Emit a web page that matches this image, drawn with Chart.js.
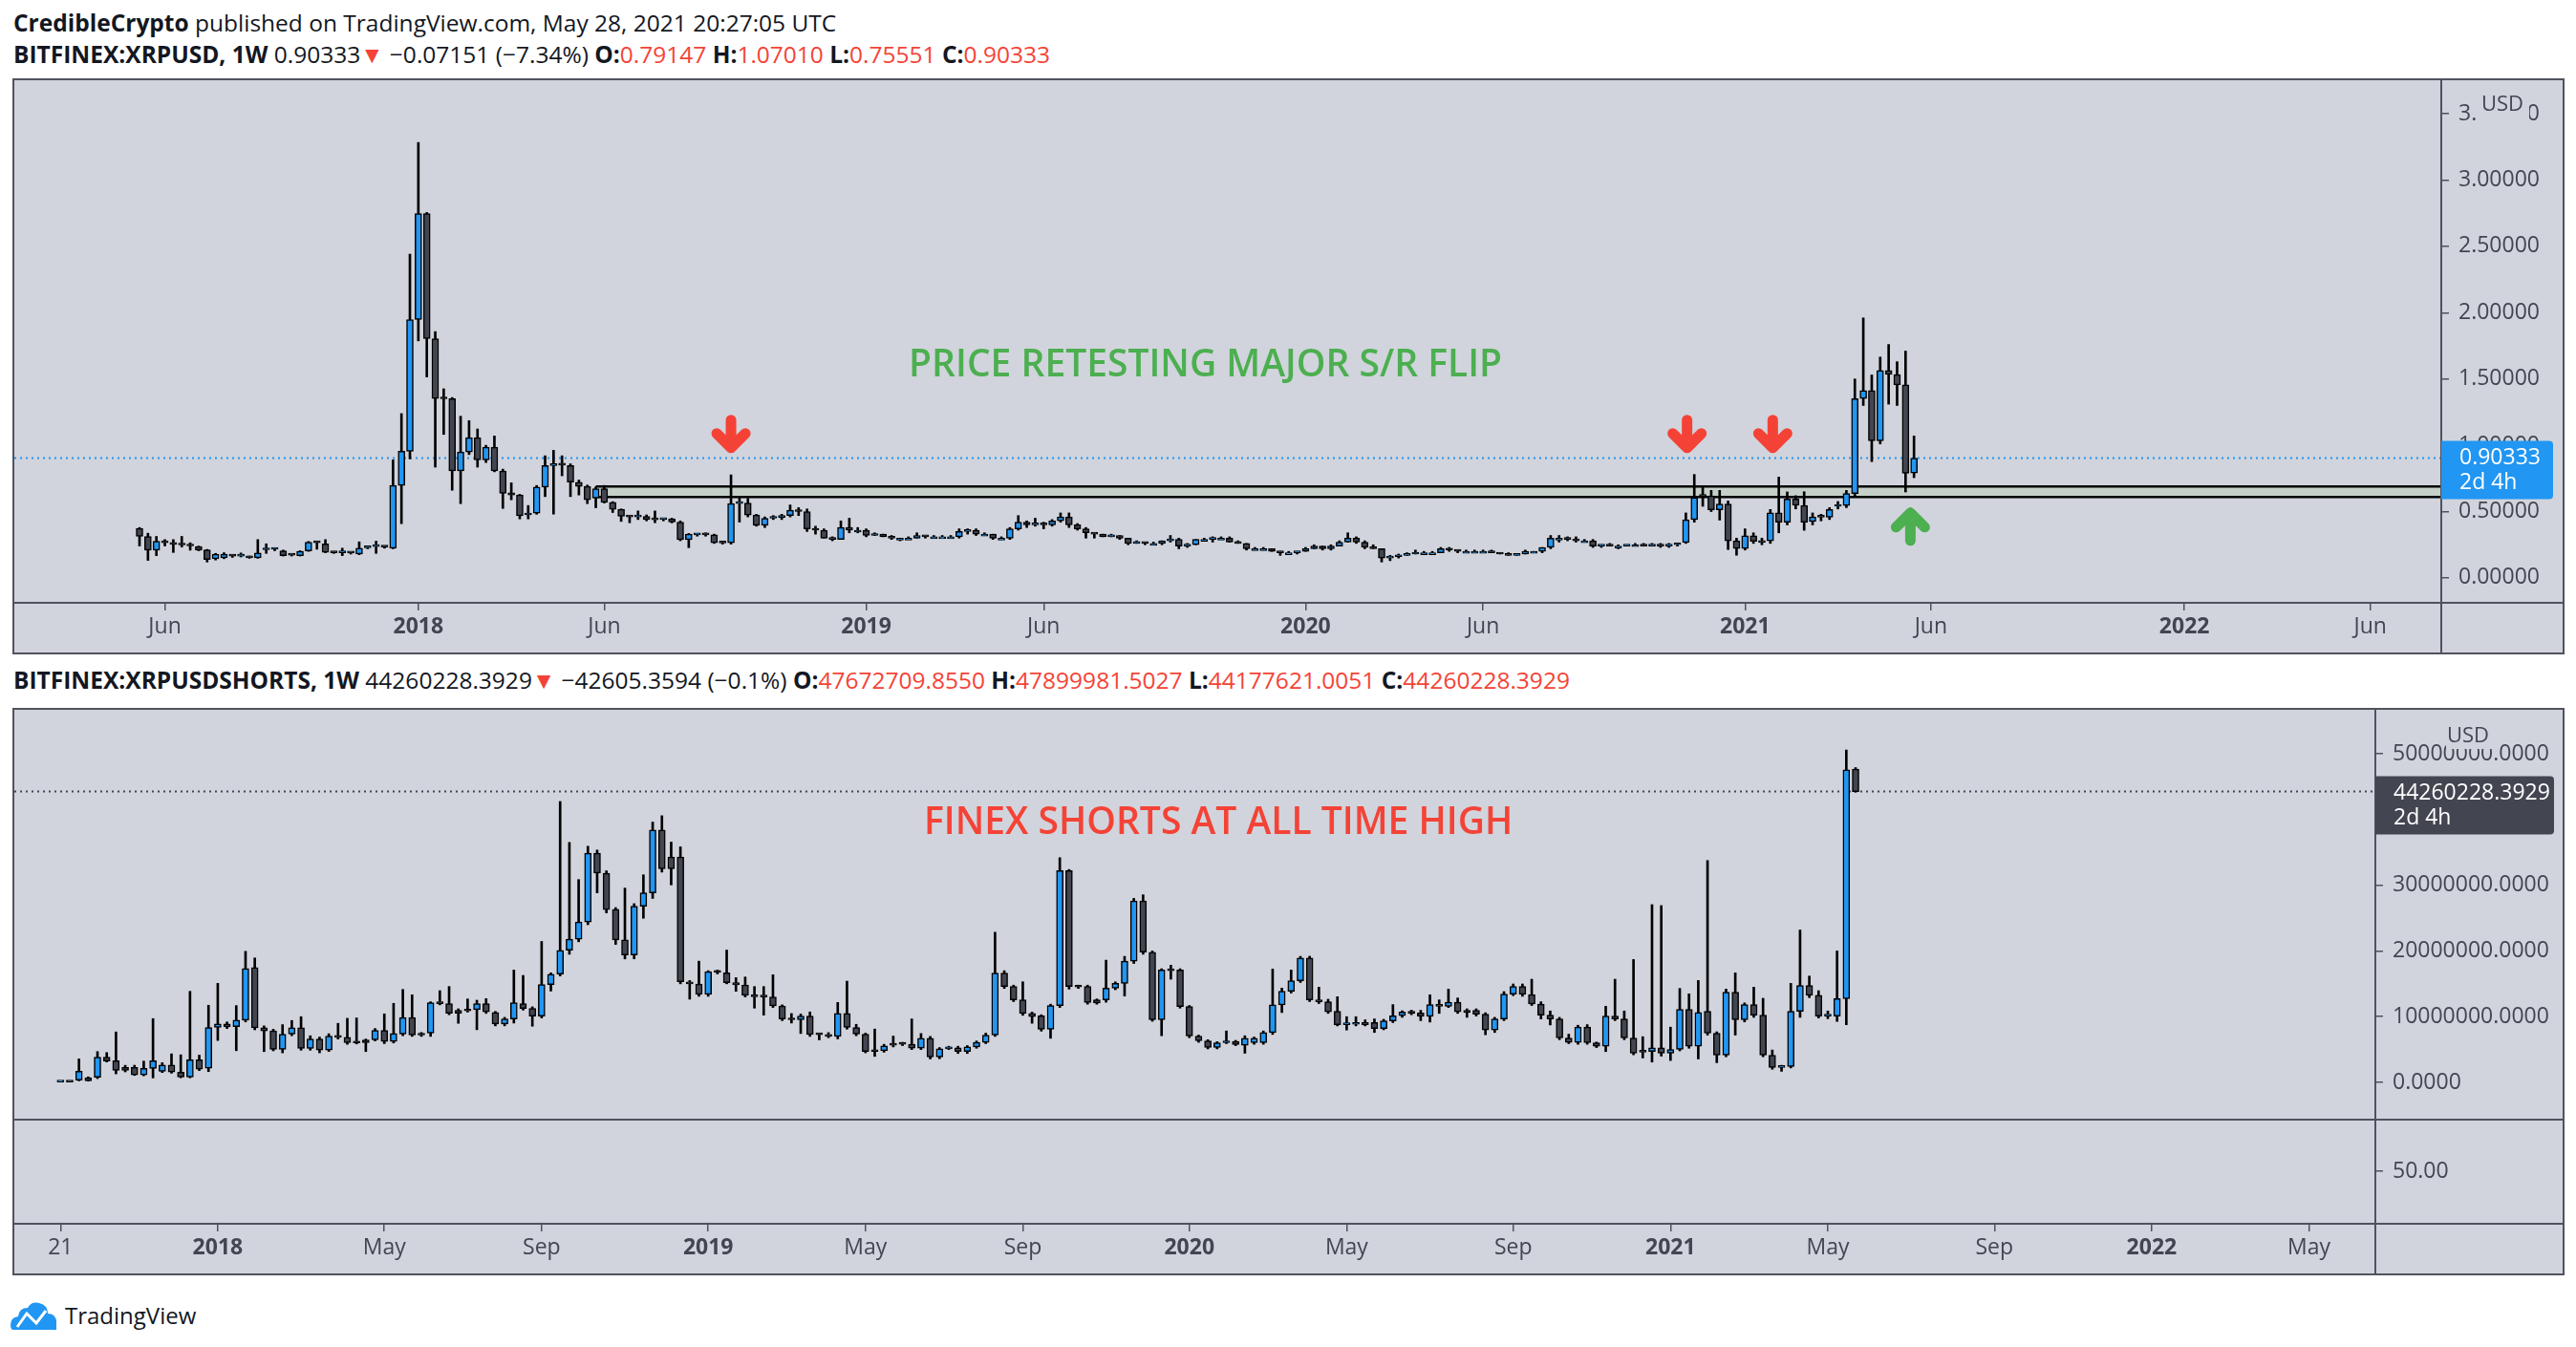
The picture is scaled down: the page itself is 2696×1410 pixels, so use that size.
<!DOCTYPE html>
<html>
<head>
<meta charset="utf-8">
<script src="https://cdn.jsdelivr.net/npm/chart.js@4.4.1/dist/chart.umd.min.js"></script>
<style>
  html, body { margin: 0; padding: 0; background: #ffffff; }
  body { width: 2696px; height: 1410px; position: relative; overflow: hidden; font-family: 'Open Sans', 'Noto Sans', sans-serif; color: #131722; }
  .hdr { position: absolute; left: 14px; font-size: 24.5px; line-height: 30px; white-space: nowrap; }
  .hdr b { font-weight: 700; }
  .red { color: #F44336; }
  .pane { position: absolute; left: 13px; width: 2667px; background: #D1D4DC; border: 2px solid #50535E; }
  .pane canvas { position: absolute; left: 0; }
  #logo { position: absolute; left: 11px; top: 1360px; display: flex; align-items: center; font-size: 24px; color: #131722; }
</style>
</head>
<body>
<div class="hdr" style="top:9px"><b>CredibleCrypto</b> published on TradingView.com, May 28, 2021 20:27:05 UTC</div>
<div class="hdr" style="top:42px"><b>BITFINEX:XRPUSD, 1W</b> 0.90333<span class="red">▼</span> −0.07151 (−7.34%) <b>O:</b><span class="red">0.79147</span> <b>H:</b><span class="red">1.07010</span> <b>L:</b><span class="red">0.75551</span> <b>C:</b><span class="red">0.90333</span></div>
<div class="pane" style="top:82px;height:599px"><canvas id="top" width="2667" height="599" style="top:0"></canvas></div>
<div class="hdr" style="top:697px"><b>BITFINEX:XRPUSDSHORTS, 1W</b> 44260228.3929<span class="red">▼</span> −42605.3594 (−0.1%) <b>O:</b><span class="red">47672709.8550</span> <b>H:</b><span class="red">47899981.5027</span> <b>L:</b><span class="red">44177621.0051</span> <b>C:</b><span class="red">44260228.3929</span></div>
<div class="pane" style="top:741px;height:590px">
  <canvas id="shorts" width="2667" height="428" style="top:0"></canvas>
  <canvas id="lower" width="2667" height="162" style="top:428px"></canvas>
</div>
<div id="logo">
  <svg width="54" height="30" viewBox="0 0 54 30"><path d="M3 30 Q0 30 0 25 Q0 17 8 16 Q9 7 18 7 Q22 0 30 2 Q39 4 39 13 Q47 13 48 21 L48 30 Z" fill="#2196F3"/><polyline points="7,27 17,13 27,23 37,10" stroke="#ffffff" stroke-width="3" fill="none"/></svg>
  <span style="margin-left:3px">TradingView</span>
</div>
<script>
// XRPUSD weekly candles, first bar week of 2017-05-15
const xrpStart = '2017-05-15';
const xrpOpen = [
  .373,.313,.209,.272,.265,.253,.248,.236,.212,.144,
  .152,.168,.164,.156,.152,.212,.216,.204,.173,.168,
  .204,.269,.257,.192,.19,.19,.18,.228,.236,.236,
  .224,.697,.955,1.948,2.746,1.804,1.352,1.352,.806,.95,
  1.058,.89,.986,.806,.642,.625,.475,.488,.685,.847,
  .854,.847,.722,.69,.601,.673,.57,.517,.464,.46,
  .464,.44,.44,.445,.421,.289,.325,.327,.325,.265,
  .265,.56,.565,.474,.397,.45,.455,.47,.51,.50,
  .37,.36,.30,.29,.38,.36,.36,.32,.33,.31,
  .30,.30,.30,.32,.31,.31,.31,.31,.35,.36,
  .33,.33,.30,.30,.37,.42,.40,.41,.40,.43,
  .46,.40,.37,.34,.33,.31,.32,.30,.26,.27,
  .26,.26,.28,.29,.24,.25,.29,.29,.30,.30,
  .27,.26,.22,.22,.22,.20,.19,.19,.20,.22,
  .24,.22,.24,.27,.30,.27,.23,.22,.15,.16,
  .17,.18,.19,.19,.19,.22,.21,.20,.20,.20,
  .20,.19,.18,.17,.18,.20,.20,.23,.30,.30,
  .29,.28,.28,.24,.25,.24,.24,.25,.25,.24,
  .25,.24,.25,.267,.439,.619,.619,.513,.557,.28,
  .222,.318,.28,.28,.49,.419,.595,.547,.426,.46,
  .458,.54,.545,.636,1.352,1.412,1.034,1.564,1.533,1.455,
  .79147
];
const xrpHigh = [
  .38,.337,.313,.289,.289,.313,.265,.24,.215,.185,
  .19,.175,.188,.165,.289,.257,.225,.21,.18,.205,
  .275,.277,.289,.2,.224,.195,.272,.24,.277,.24,
  .89,1.239,2.441,3.283,2.755,1.857,1.426,1.36,1.219,1.186,
  1.123,1.0,1.07,.82,.717,.63,.546,.697,.921,.962,
  .921,.86,.738,.70,.68,.697,.575,.52,.47,.505,
  .475,.505,.45,.45,.43,.335,.335,.34,.33,.275,
  .777,.613,.6,.48,.46,.47,.48,.55,.53,.52,
  .39,.37,.31,.43,.45,.38,.37,.34,.33,.32,
  .30,.31,.34,.32,.32,.32,.32,.37,.37,.37,
  .34,.33,.31,.38,.47,.43,.45,.42,.44,.49,
  .49,.41,.38,.34,.33,.33,.32,.30,.28,.27,
  .27,.28,.32,.30,.26,.29,.30,.31,.31,.31,
  .28,.26,.23,.23,.22,.20,.20,.20,.23,.25,
  .24,.25,.28,.34,.31,.28,.25,.22,.17,.18,
  .19,.21,.20,.20,.23,.23,.21,.21,.21,.21,
  .21,.19,.19,.18,.21,.20,.23,.32,.32,.31,
  .31,.29,.29,.25,.26,.25,.25,.26,.26,.26,
  .26,.26,.26,.49,.78,.684,.66,.66,.58,.30,
  .37,.34,.30,.516,.76,.648,.62,.65,.49,.48,
  .53,.576,.66,1.50,1.96,1.53,1.665,1.76,1.63,1.71,
  1.0701
];
const xrpLow = [
  .241,.132,.168,.241,.192,.233,.209,.205,.12,.135,
  .145,.155,.158,.148,.148,.185,.205,.165,.165,.165,
  .2,.216,.19,.185,.168,.18,.175,.22,.185,.224,
  .22,.409,.897,1.787,1.515,.835,1.082,.661,.56,.93,
  .835,.87,.8,.524,.589,.445,.445,.48,.613,.481,
  .77,.613,.625,.56,.529,.565,.493,.426,.416,.44,
  .43,.416,.43,.415,.28,.228,.315,.315,.26,.255,
  .255,.421,.46,.39,.38,.44,.44,.46,.47,.35,
  .33,.30,.28,.29,.34,.34,.31,.32,.31,.29,
  .28,.29,.30,.30,.30,.31,.30,.30,.33,.32,
  .32,.29,.29,.29,.36,.38,.39,.37,.39,.42,
  .38,.36,.30,.30,.31,.31,.29,.25,.26,.25,
  .25,.25,.27,.22,.23,.25,.28,.27,.29,.27,
  .26,.21,.21,.21,.20,.17,.19,.18,.20,.22,
  .21,.21,.24,.27,.26,.22,.22,.12,.13,.15,
  .17,.18,.18,.19,.19,.20,.19,.19,.19,.19,
  .19,.18,.17,.17,.18,.19,.19,.22,.27,.28,
  .27,.27,.23,.23,.24,.22,.24,.24,.24,.24,
  .23,.23,.24,.26,.42,.54,.50,.436,.214,.171,
  .21,.26,.25,.26,.34,.40,.52,.359,.40,.43,
  .44,.52,.53,.62,1.30,.877,1.01,1.31,1.30,.648,
  .75551
];
const xrpClose = [
  .313,.209,.277,.265,.253,.248,.241,.209,.139,.18,
  .18,.164,.166,.152,.188,.216,.218,.168,.172,.2,
  .269,.265,.192,.19,.193,.188,.224,.233,.238,.233,
  .697,.955,1.948,2.746,1.804,1.352,1.35,.806,.95,1.058,
  .89,.986,.806,.637,.625,.469,.481,.685,.847,.854,
  .85,.722,.69,.589,.673,.57,.517,.464,.46,.462,
  .44,.438,.445,.421,.289,.33,.327,.325,.265,.263,
  .56,.565,.474,.397,.45,.455,.47,.51,.50,.37,
  .36,.30,.29,.38,.36,.36,.32,.33,.31,.30,
  .30,.30,.32,.31,.31,.31,.31,.35,.36,.33,
  .33,.30,.30,.37,.42,.40,.41,.40,.43,.46,
  .40,.37,.34,.33,.31,.32,.30,.26,.27,.26,
  .26,.28,.29,.24,.25,.29,.29,.30,.30,.27,
  .26,.22,.22,.22,.20,.19,.19,.20,.22,.24,
  .22,.24,.27,.30,.27,.23,.22,.15,.16,.17,
  .18,.19,.19,.19,.22,.21,.20,.20,.20,.20,
  .19,.18,.17,.18,.20,.20,.23,.30,.30,.29,
  .28,.28,.24,.25,.24,.24,.25,.25,.24,.25,
  .24,.25,.26,.439,.605,.615,.513,.557,.28,.222,
  .318,.275,.267,.49,.419,.595,.547,.419,.46,.458,
  .516,.545,.636,1.352,1.412,1.034,1.564,1.535,1.455,.788,
  .90333
];

// XRPUSDSHORTS weekly candles (millions), first bar week of 2017-09-04
const shortsStart = '2017-09-04';
const shortsOpenM = [
  .05,.06,.34,.72,.77,3.86,3.29,2.27,2.27,1.16,
  2.13,1.69,2.66,1.55,.82,3.43,2.17,8.36,8.89,8.5,
  9.47,17.49,8.31,7.83,5.02,7.34,8.31,5.17,6.62,4.93,
  7.05,6.86,6.04,6.47,6.47,7.92,6.23,7.34,9.86,7.49,
  7.49,12.13,11.98,10.97,11.06,11.06,11.98,10.63,8.89,9.66,
  11.98,11.26,10.1,14.88,16.47,20.1,21.79,24.4,34.88,31.84,
  26.33,21.69,19.37,26.81,28.84,38.41,34.3,34.3,15.31,14.98,
  13.38,16.86,16.67,15.17,14.83,13.24,13.14,13.0,11.64,9.66,
  9.52,10.1,7.39,7.29,7.0,10.48,8.36,7.34,4.93,4.83,
  5.89,5.94,5.8,5.22,6.71,3.86,5.12,5.27,4.69,5.41,
  6.09,7.2,16.62,14.59,12.56,10.48,10.14,8.07,11.69,32.22,
  14.59,14.59,12.56,12.56,14.35,15.07,18.45,27.63,19.81,9.52,
  17.1,17.1,11.55,7.05,6.33,5.31,6.04,6.23,5.65,6.04,
  6.04,7.58,11.79,13.86,15.46,18.94,12.56,12.27,10.82,8.79,
  8.84,9.13,9.13,8.21,9.37,10.14,10.82,10.58,10.05,11.84,
  11.59,12.22,10.97,10.97,10.39,7.97,9.66,13.43,14.59,13.38,
  11.93,10.24,9.66,6.76,6.09,8.41,6.04,5.51,10.1,9.66,
  6.76,4.69,4.69,5.27,4.44,5.02,11.11,5.51,10.82,7.49,
  4.15,13.72,9.52,11.84,10.24,4.15,2.27,2.42,10.82,14.73,
  13.24,10.1,10.1,12.75,47.6727098550
];
const shortsHighM = [
  .1,.1,3.57,.85,4.69,4.54,7.68,2.6,2.61,3.24,
  9.71,3.0,4.35,4.2,13.86,4.15,11.74,15.07,9.2,11.69,
  19.95,18.94,8.6,8.1,8.79,9.42,10.0,7.1,6.9,7.4,
  8.99,9.76,9.81,6.6,8.2,10.43,12.03,14.15,13.33,7.6,
  12.27,13.96,14.59,11.2,12.7,12.51,12.75,10.8,9.9,17.1,
  16.28,11.5,21.45,16.67,42.75,36.52,30.87,35.94,35.36,32.2,
  26.6,29.57,27.2,31.59,39.61,40.58,36.57,35.85,15.5,18.45,
  17.0,17.1,20.14,15.94,16.04,14.59,14.59,16.38,11.8,10.48,
  10.4,10.72,7.5,7.58,12.17,15.41,8.84,7.5,8.12,5.8,
  7.05,6.1,9.66,7.44,7.0,5.3,5.5,5.5,5.6,6.3,
  7.5,22.85,17.0,14.8,15.31,10.7,10.3,11.9,34.2,32.4,
  14.8,14.8,12.7,18.6,15.3,19.18,28.0,28.55,20.0,17.3,
  17.83,17.3,11.7,7.2,6.5,6.2,7.83,6.4,7.1,6.9,
  7.83,17.25,14.35,17.1,19.18,19.2,14.49,12.66,13.04,10.0,
  10.0,9.52,9.66,9.6,11.84,10.9,11.0,10.97,13.33,12.56,
  14.2,12.85,11.2,11.2,10.6,9.9,13.82,14.98,14.98,15.7,
  12.27,10.87,9.9,7.34,8.7,8.79,6.14,11.59,15.7,10.87,
  18.7,6.96,27.05,26.91,8.41,14.3,13.48,15.51,33.77,7.7,
  14.2,16.67,12.1,14.49,12.8,4.93,2.6,15.07,23.19,16.18,
  13.96,10.87,20.0,50.58,47.8999815027
];
const shortsLowM = [
  0,0,.24,.2,.58,3.1,1.3,1.6,1.06,1.0,
  .68,1.5,1.4,.7,.7,1.8,1.64,6.38,8.2,4.83,
  9.2,8.0,4.69,4.8,4.5,7.1,4.9,4.9,4.5,4.7,
  6.6,5.8,5.85,4.69,6.3,5.9,6.0,7.1,7.0,7.0,
  7.0,11.8,10.3,8.99,10.7,8.02,10.5,8.6,8.6,9.03,
  11.0,8.55,9.8,13.9,16.2,19.5,21.4,24.0,28.84,25.8,
  21.0,18.79,18.8,24.98,28.0,32.0,30.05,15.0,12.66,13.1,
  13.1,16.5,15.0,13.86,13.0,11.3,10.24,11.4,9.4,9.03,
  7.44,7.0,6.47,6.8,6.62,8.1,7.1,4.5,3.96,4.6,
  5.4,5.6,5.0,5.0,3.57,3.6,5.0,4.4,4.4,5.2,
  5.9,7.0,14.3,12.3,10.2,9.0,7.8,6.71,11.4,14.2,
  14.3,11.9,11.9,12.2,14.1,13.14,18.1,19.5,9.3,7.1,
  15.7,11.3,6.8,6.1,5.1,5.1,5.9,5.6,4.44,5.8,
  5.8,7.3,10.63,13.6,15.2,12.3,12.0,10.5,8.6,7.97,
  8.6,8.6,7.6,8.0,9.1,9.9,10.3,9.4,9.18,10.5,
  11.4,10.5,9.9,10.1,7.25,7.6,9.4,13.2,13.1,11.7,
  9.66,8.74,6.5,5.9,5.8,5.8,5.3,4.69,9.4,6.5,
  4.2,3.72,3.09,4.0,3.33,4.8,5.2,3.57,7.2,3.0,
  3.9,7.2,9.2,9.9,3.9,2.0,1.69,2.2,9.9,12.9,
  9.8,9.7,9.28,8.79,44.1776210051
];
const shortsCloseM = [
  .06,.05,1.69,.24,3.86,3.24,1.84,1.84,1.16,2.13,
  3.29,2.66,1.59,.82,3.43,2.03,8.36,8.89,8.45,9.47,
  17.34,8.31,7.83,5.02,7.34,8.31,5.17,6.62,4.93,7.05,
  6.86,6.04,6.0,6.04,7.92,6.23,7.44,9.86,7.2,7.2,
  12.13,11.98,10.53,10.53,10.87,11.98,10.72,8.89,9.66,12.13,
  11.26,10.1,14.88,16.47,20.1,21.79,24.4,34.88,31.84,26.28,
  21.69,19.37,26.81,28.84,38.41,32.51,32.51,15.31,14.98,13.38,
  16.86,16.76,15.17,14.83,13.24,13.04,13.0,11.64,9.66,9.52,
  10.1,7.29,7.25,7.0,10.48,8.36,7.34,4.69,4.69,5.56,
  5.65,5.8,5.22,6.71,3.86,5.12,5.27,4.69,5.41,6.09,
  7.2,16.62,14.59,12.56,10.48,10.0,8.07,11.69,32.22,14.59,
  14.5,12.17,12.08,14.35,15.07,18.45,27.63,19.81,9.52,17.1,
  17.0,11.55,7.05,6.33,5.31,6.04,6.14,5.75,6.71,6.71,
  7.58,11.79,13.86,15.46,18.94,12.56,12.27,10.72,8.79,8.84,
  8.89,8.79,8.21,9.37,10.14,10.72,10.48,10.05,11.84,11.59,
  12.22,10.72,10.63,10.39,7.97,9.66,13.43,14.59,13.38,11.93,
  10.24,9.66,6.76,6.09,8.41,6.04,5.51,10.1,9.66,6.76,
  4.44,4.6,5.27,4.44,5.02,11.11,5.51,10.63,7.49,4.15,
  13.72,9.52,11.84,10.24,4.15,2.27,2.42,10.82,14.73,13.24,
  10.1,10.14,12.75,47.58,44.2602283929
];

// axis ticks
const topTickDates = ['2017-06-05','2018-01-01','2018-06-04','2019-01-07','2019-06-03','2020-01-06','2020-06-01','2021-01-04','2021-06-07','2022-01-03','2022-06-06'];
const topTickLabels = ['Jun','2018','Jun','2019','Jun','2020','Jun','2021','Jun','2022','Jun'];
const topPriceTicks = [0, 0.5, 1, 1.5, 2, 2.5, 3, 3.5];
const bottomTickDates = ['2017-09-04','2018-01-01','2018-05-07','2018-09-03','2019-01-07','2019-05-06','2019-09-02','2020-01-06','2020-05-04','2020-09-07','2021-01-04','2021-05-03','2021-09-06','2022-01-03','2022-05-02'];
const bottomTickLabels = ['21','2018','May','Sep','2019','May','Sep','2020','May','Sep','2021','May','Sep','2022','May'];
const shortsTicksM = [0, 10, 20, 30, 40, 50];
const lowerPaneTicks = [50];

const UP = '#2196F3';
const DOWN = '#434651';
const AXIS = '#50535E';
const LABEL = '#434651';
const FONT = "'Open Sans', 'Noto Sans', sans-serif";

Chart.defaults.font.family = FONT;

const BASE = Date.parse('2018-01-01T00:00:00Z');
const dayOf = s => (Date.parse(s + 'T00:00:00Z') - BASE) / 86400000;

function candleSets(start, o, h, l, c, mult, bodyW) {
    const x0 = dayOf(start);
    const bodies = [], wicks = [], colors = [];
    for (let i = 0; i < o.length; i++) {
        const x = x0 + i * 7;
        bodies.push({ x: x, y: [o[i] * mult, c[i] * mult] });
        wicks.push({ x: x, y: [l[i] * mult, h[i] * mult] });
        colors.push(c[i] >= o[i] ? UP : DOWN);
    }
    return [
        { data: bodies, backgroundColor: colors, borderColor: '#000', borderWidth: 1.5, borderSkipped: false,
          barThickness: bodyW, minBarLength: 2, grouped: false, order: 0 },
        { data: wicks, backgroundColor: '#000', borderWidth: 0, barThickness: 2, grouped: false, order: 1 }
    ];
}

function noPad(s) {
    s.paddingTop = 0; s.paddingBottom = 0; s.paddingLeft = 0; s.paddingRight = 0;
}

function xAxis(min, max, dates, labels, show) {
    return {
        type: 'linear', min: min, max: max, offset: false, display: show,
        grid: { offset: false, drawOnChartArea: false, drawTicks: true, tickLength: 8, color: AXIS, lineWidth: 1.5 },
        border: { display: false },
        afterBuildTicks: s => { s.ticks = dates.map(d => ({ value: dayOf(d) })); },
        afterFit: s => { s.height = show ? 52 : 0; noPad(s); },
        ticks: {
            autoSkip: false, maxRotation: 0, padding: 4, color: LABEL,
            font: ctx => ({ family: FONT, size: 23, weight: /^\d{4}$/.test(labels[ctx.index]) ? 'bold' : 'normal' }),
            callback: (v, i) => labels[i]
        }
    };
}

function yAxis(min, max, ticks, width, fmt) {
    return {
        position: 'right', min: min, max: max,
        grid: { drawOnChartArea: false, drawTicks: true, tickLength: 8, color: AXIS, lineWidth: 1.5 },
        border: { display: false },
        afterBuildTicks: s => { s.ticks = ticks.map(v => ({ value: v })); },
        afterFit: s => { s.width = width; noPad(s); },
        ticks: { padding: 10, color: LABEL, font: { family: FONT, size: 23 }, callback: fmt }
    };
}

function frameLines(chart, bottomLine, topLine) {
    const { ctx, chartArea: a, width, height } = chart;
    ctx.save();
    ctx.strokeStyle = AXIS;
    ctx.lineWidth = 2;
    ctx.beginPath();
    ctx.moveTo(a.right, 0); ctx.lineTo(a.right, height);
    if (bottomLine) { ctx.moveTo(0, a.bottom); ctx.lineTo(width, a.bottom); }
    if (topLine) { ctx.moveTo(0, 1); ctx.lineTo(width, 1); }
    ctx.stroke();
    ctx.restore();
}

function drawArrow(ctx, x, tipY, dir, color) {
    // dir 1 = pointing down, -1 = pointing up
    ctx.save();
    ctx.strokeStyle = color;
    ctx.lineWidth = 11;
    ctx.lineCap = 'round';
    ctx.lineJoin = 'round';
    ctx.beginPath();
    ctx.moveTo(x, tipY - dir * 34);
    ctx.lineTo(x, tipY - dir * 5);
    ctx.moveTo(x - 15, tipY - dir * 20);
    ctx.lineTo(x, tipY - dir * 5);
    ctx.lineTo(x + 15, tipY - dir * 20);
    ctx.stroke();
    ctx.restore();
}

function priceBox(ctx, x0, x1, y0, y1, color, text) {
    ctx.save();
    ctx.fillStyle = color;
    ctx.beginPath();
    ctx.roundRect(x0, y0, x1 - x0, y1 - y0, [0, 4, 4, 0]);
    ctx.fill();
    ctx.fillStyle = '#ffffff';
    ctx.font = '23px ' + FONT;
    ctx.textAlign = 'left';
    ctx.textBaseline = 'middle';
    ctx.fillText(text, x0 + 19, y0 + 18);
    ctx.fillText('2d 4h', x0 + 19, y0 + 44);
    ctx.restore();
}

function usdLabel(ctx, rx, ry, rw, rh, cx, cy) {
    ctx.save();
    ctx.fillStyle = '#D1D4DC';
    ctx.fillRect(rx, ry, rw, rh);
    ctx.fillStyle = LABEL;
    ctx.font = '22px ' + FONT;
    ctx.textAlign = 'center';
    ctx.textBaseline = 'middle';
    ctx.fillText('USD', cx, cy);
    ctx.restore();
}

const xrpLast = xrpClose[xrpClose.length - 1];
const shortsLast = shortsCloseM[shortsCloseM.length - 1] * 1e6;

const topDecor = {
    id: 'topDecor',
    beforeDatasetsDraw(chart) {
        const { ctx, chartArea: a, scales: { x, y } } = chart;
        ctx.save();
        // support / resistance zone
        const zx = x.getPixelForValue(dayOf('2018-05-28'));
        const zTop = y.getPixelForValue(0.69), zBot = y.getPixelForValue(0.61);
        ctx.fillStyle = '#C5D0C9';
        ctx.fillRect(zx, zTop, a.right - zx, zBot - zTop);
        ctx.strokeStyle = '#000';
        ctx.lineWidth = 2.5;
        ctx.beginPath();
        ctx.moveTo(zx, zTop); ctx.lineTo(a.right, zTop);
        ctx.moveTo(zx, zBot); ctx.lineTo(a.right, zBot);
        ctx.moveTo(zx, zTop); ctx.lineTo(zx, zBot);
        ctx.stroke();
        // last price line
        const py = y.getPixelForValue(xrpLast);
        ctx.strokeStyle = UP;
        ctx.lineWidth = 2;
        ctx.setLineDash([2, 4]);
        ctx.beginPath();
        ctx.moveTo(a.left, py); ctx.lineTo(a.right, py);
        ctx.stroke();
        ctx.restore();
    },
    afterDatasetsDraw(chart) {
        const { ctx, scales: { x, y } } = chart;
        ctx.save();
        ctx.fillStyle = '#4CAF50';
        ctx.font = '600 39px ' + FONT;
        ctx.textAlign = 'center';
        ctx.textBaseline = 'middle';
        ctx.fillText('PRICE RETESTING MAJOR S/R FLIP', x.getPixelForValue(dayOf('2019-10-15')), y.getPixelForValue(1.60));
        ctx.restore();
        drawArrow(ctx, x.getPixelForValue(dayOf('2018-09-17')), y.getPixelForValue(0.945), 1, '#F44336');
        drawArrow(ctx, x.getPixelForValue(dayOf('2020-11-17')), y.getPixelForValue(0.945), 1, '#F44336');
        drawArrow(ctx, x.getPixelForValue(dayOf('2021-01-27')), y.getPixelForValue(0.945), 1, '#F44336');
        drawArrow(ctx, x.getPixelForValue(dayOf('2021-05-21')), y.getPixelForValue(0.527), -1, '#4CAF50');
    },
    afterDraw(chart) {
        const { ctx, chartArea: a, scales: { y } } = chart;
        frameLines(chart, true, false);
        usdLabel(ctx, a.right + 36, 8, 56, 34, a.right + 64, 26);
        const py = y.getPixelForValue(xrpLast);
        priceBox(ctx, a.right, a.right + 117, py - 18, py + 43, UP, xrpLast.toFixed(5));
    }
};

const shortsDecor = {
    id: 'shortsDecor',
    beforeDatasetsDraw(chart) {
        const { ctx, chartArea: a, scales: { y } } = chart;
        const py = y.getPixelForValue(shortsLast);
        ctx.save();
        ctx.strokeStyle = DOWN;
        ctx.lineWidth = 2;
        ctx.setLineDash([2, 4]);
        ctx.beginPath();
        ctx.moveTo(a.left, py); ctx.lineTo(a.right, py);
        ctx.stroke();
        ctx.restore();
    },
    afterDatasetsDraw(chart) {
        const { ctx, scales: { x, y } } = chart;
        ctx.save();
        ctx.fillStyle = '#F44336';
        ctx.font = '600 39px ' + FONT;
        ctx.textAlign = 'center';
        ctx.textBaseline = 'middle';
        ctx.fillText('FINEX SHORTS AT ALL TIME HIGH', x.getPixelForValue(dayOf('2020-01-28')), y.getPixelForValue(39.4e6));
        ctx.restore();
    },
    afterDraw(chart) {
        const { ctx, chartArea: a, scales: { y } } = chart;
        frameLines(chart, false, false);
        usdLabel(ctx, a.right + 74, 8, 50, 33, a.right + 97, 28);
        const py = y.getPixelForValue(shortsLast);
        priceBox(ctx, a.right, a.right + 187, py - 16, py + 45, DOWN, shortsLast.toFixed(4));
    }
};

const lowerDecor = {
    id: 'lowerDecor',
    afterDraw(chart) { frameLines(chart, true, true); }
};

const baseOptions = {
    animation: false, responsive: false, maintainAspectRatio: false, devicePixelRatio: 1,
    layout: { padding: 0 },
    plugins: { legend: { display: false }, tooltip: { enabled: false } }
};

new Chart(document.getElementById('top'), {
    type: 'bar',
    data: { datasets: candleSets(xrpStart, xrpOpen, xrpHigh, xrpLow, xrpClose, 1, 7) },
    options: Object.assign({}, baseOptions, {
        scales: {
            x: xAxis(-334.7, 1675.8, topTickDates, topTickLabels, true),
            y: yAxis(-0.1876, 3.752, topPriceTicks, 127, v => v.toFixed(5))
        }
    }),
    plugins: [topDecor]
});

new Chart(document.getElementById('shorts'), {
    type: 'bar',
    data: { datasets: candleSets(shortsStart, shortsOpenM, shortsHighM, shortsLowM, shortsCloseM, 1e6, 7) },
    options: Object.assign({}, baseOptions, {
        scales: {
            x: xAxis(-153.9, 1632.2, bottomTickDates, bottomTickLabels, false),
            y: yAxis(-5.52e6, 56.7e6, shortsTicksM.map(v => v * 1e6), 196, v => v.toFixed(4))
        }
    }),
    plugins: [shortsDecor]
});

new Chart(document.getElementById('lower'), {
    type: 'bar',
    data: { datasets: [] },
    options: Object.assign({}, baseOptions, {
        scales: {
            x: xAxis(-153.9, 1632.2, bottomTickDates, bottomTickLabels, true),
            y: yAxis(0, 100, lowerPaneTicks, 196, v => v.toFixed(2))
        }
    }),
    plugins: [lowerDecor]
});
</script>
</body>
</html>
